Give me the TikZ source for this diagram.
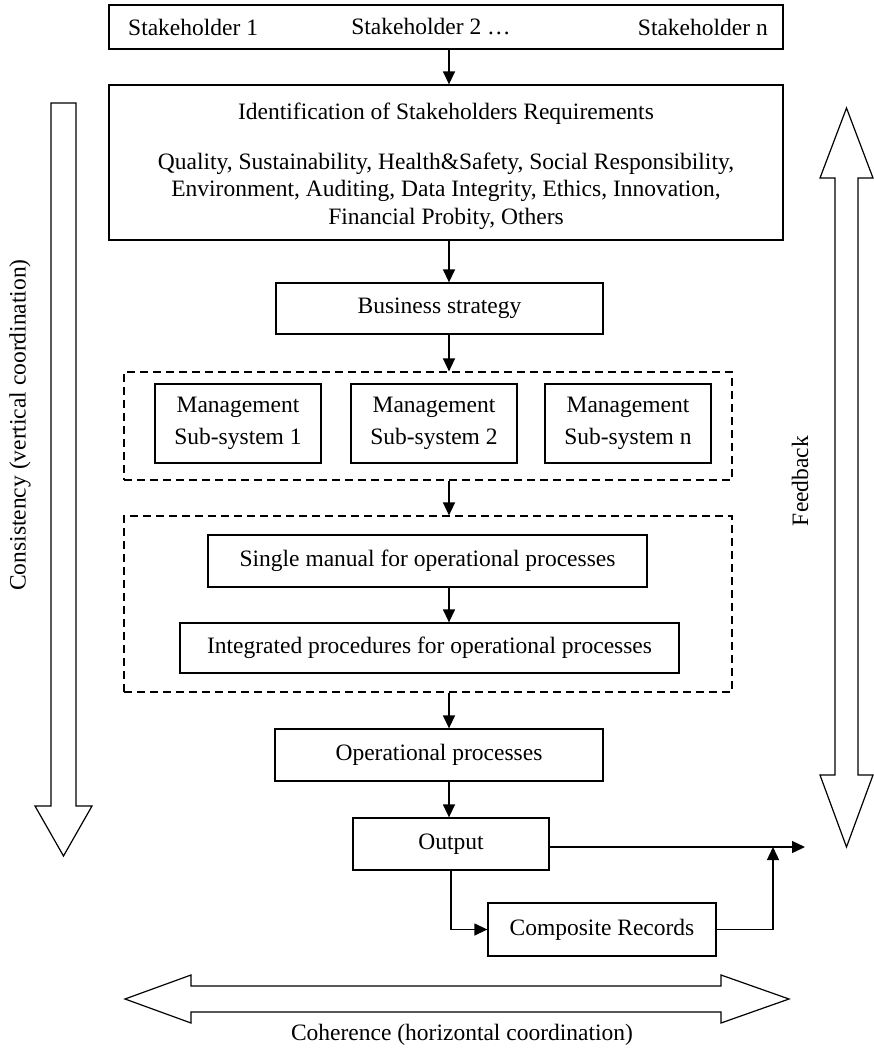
\documentclass[tikz,border=0pt]{standalone}
\usepackage{fontspec}
\setmainfont{Liberation Serif}
\usetikzlibrary{arrows.meta}
\begin{document}
\begin{tikzpicture}[x=1pt,y=-1pt,
  every node/.style={font=\fontsize{23.5}{27.5}\selectfont},
  box/.style={draw,line width=1.3pt,inner sep=0pt,align=center},
  grp/.style={draw,dash pattern=on 8pt off 5pt,line width=1.2pt,inner sep=0pt},
  plain/.style={inner sep=0pt,align=center},
  flow/.style={line width=1.4pt,-{Triangle[length=13pt,width=12pt]}},
  bigarrow/.style={draw,line width=1.2pt,fill=white,line join=miter}]
\useasboundingbox (0,0) rectangle (874,1050);

% column of the main flow
\coordinate (col) at (449,0);

% stakeholders
\node[box,minimum width=674,minimum height=44] (top) at (446,27) {};
\node[plain,anchor=west] (s1) at (128,27) {Stakeholder 1};
\node[plain] (s2) at (431,27) {Stakeholder 2 …};
\node[plain,anchor=east] (sn) at (768,27) {Stakeholder n};

% requirements
\node[box,minimum width=674,minimum height=155] (ident) at (446,162.5) {};
\node[plain] (identtitle) at (446,114) {Identification of Stakeholders Requirements};
\node[plain] (identlist) at (446,191) {Quality, Sustainability, Health\&Safety, Social Responsibility,\\
  Environment, Auditing, Data Integrity, Ethics, Innovation,\\
  Financial Probity, Others};

\node[box,minimum width=327,minimum height=51] (strat) at (439.5,308.5) {Business strategy};

% management sub-systems
\node[grp,minimum width=608,minimum height=108] (subs) at (428,426) {};
\node[box,minimum width=166,minimum height=79] (m1) at (238,423.5) {Management\\[4pt]Sub-system 1};
\node[box,minimum width=166,minimum height=79] (m2) at (434,423.5) {Management\\[4pt]Sub-system 2};
\node[box,minimum width=166,minimum height=79] (m3) at (628,423.5) {Management\\[4pt]Sub-system n};

% integrated documentation
\node[grp,minimum width=608,minimum height=176] (docs) at (428,604) {};
\node[box,minimum width=439,minimum height=52] (manual) at (427.5,561) {Single manual for operational processes};
\node[box,minimum width=499,minimum height=50] (integ) at (429.5,648) {Integrated procedures for operational processes};

\node[box,minimum width=328,minimum height=52] (ops) at (439,755) {Operational processes};
\node[box,minimum width=196,minimum height=52] (out) at (451,844) {Output};
\node[box,minimum width=228,minimum height=53] (comp) at (602,929.5) {Composite Records};

\coordinate (outend) at (805,847);
\coordinate (join) at (773,847);

% flow connectors
\draw[flow] (top.south -| col) -- (ident.north -| col);
\draw[flow] (ident.south -| col) -- (strat.north -| col);
\draw[flow] (strat.south -| col) -- (subs.north -| col);
\draw[flow] (subs.south -| col) -- (docs.north -| col);
\draw[flow] (manual.south -| col) -- (integ.north -| col);
\draw[flow] (docs.south -| col) -- (ops.north -| col);
\draw[flow] (ops.south -| col) -- (out.north -| col);
\draw[flow] (out.east |- outend) -- (outend);
\draw[flow] (out.south) -- (out.south |- comp.west) -- (comp.west);
\draw[flow] (comp.east) -- (comp.east -| join) -- (join);

% consistency arrow
\draw[bigarrow] (51,103) -- (76,103) -- (76,806) -- (92,806) -- (63.5,856)
  -- (35,806) -- (51,806) -- cycle;
\node[plain,rotate=90] (consist) at (20,425) {Consistency (vertical coordination)};

% feedback arrow
\draw[bigarrow] (846.5,108) -- (873,178) -- (858,178) -- (858,775) -- (873,775)
  -- (846.5,847) -- (820,775) -- (835,775) -- (835,178) -- (820,178) -- cycle;
\node[plain,rotate=90] (feedback) at (800,481) {Feedback};

% coherence arrow
\draw[bigarrow] (125,999) -- (191,975) -- (191,986) -- (721,986) -- (721,975)
  -- (789,999) -- (721,1023) -- (721,1012) -- (191,1012) -- (191,1023) -- cycle;
\node[plain] (coher) at (462,1035) {Coherence (horizontal coordination)};
\end{tikzpicture}
\end{document}
